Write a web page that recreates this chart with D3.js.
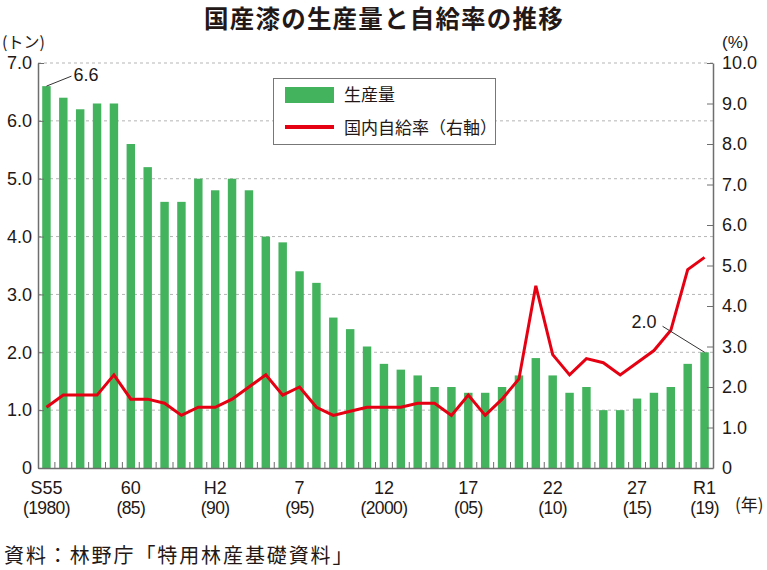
<!DOCTYPE html>
<html><head><meta charset="utf-8">
<script src="https://cdn.jsdelivr.net/npm/d3@7"></script>
<style>
html,body{margin:0;padding:0;background:#fff;}
svg text{font-family:"Liberation Sans",Arial,sans-serif;fill:#231815;}
.jp{font-family:"Noto Sans CJK JP","Noto Sans",sans-serif;}
</style></head>
<body>
<svg id="c" width="767" height="570"></svg>
<script>
// ---- data ----
const years = [1980,1981,1982,1983,1984,1985,1986,1987,1988,1989,
               1990,1991,1992,1993,1994,1995,1996,1997,1998,1999,
               2000,2001,2002,2003,2004,2005,2006,2007,2008,2009,
               2010,2011,2012,2013,2014,2015,2016,2017,2018,2019];
const production = [6.6,6.4,6.2,6.3,6.3,5.6,5.2,4.6,4.6,5.0,
                    4.8,5.0,4.8,4.0,3.9,3.4,3.2,2.6,2.4,2.1,
                    1.8,1.7,1.6,1.4,1.4,1.3,1.3,1.4,1.6,1.9,
                    1.6,1.3,1.4,1.0,1.0,1.2,1.3,1.4,1.8,2.0];
const selfSufficiency = [1.5,1.8,1.8,1.8,2.3,1.7,1.7,1.6,1.3,1.5,
                         1.5,1.7,2.0,2.3,1.8,2.0,1.5,1.3,1.4,1.5,
                         1.5,1.5,1.6,1.6,1.3,1.8,1.3,1.7,2.2,4.5,
                         2.8,2.3,2.7,2.6,2.3,2.6,2.9,3.4,4.9,5.2];
const leftTicks = [0,1,2,3,4,5,6,7];
const rightTicks = [0,1,2,3,4,5,6,7,8,9,10];
const xLabelYears = [1980,1985,1990,1995,2000,2005,2010,2015,2019];
const xLabelsEra = ["S55","60","H2","7","12","17","22","27","R1"];
const xLabelsAD = ["(1980)","(85)","(90)","(95)","(2000)","(05)","(10)","(15)","(19)"];
const title = "国産漆の生産量と自給率の推移";
const legendLabels = ["生産量","国内自給率（右軸）"];
const source = "資料：林野庁「特用林産基礎資料」";

const GREEN = "#44b35e", RED = "#e50012", AXIS = "#6e6e6e";
const svg = d3.select("#c");
const L = 38, R = 713, T = 63, B = 468;

const x = d3.scaleBand().domain(years).range([L, R]).paddingInner(0.5).paddingOuter(0.25);
const yL = d3.scaleLinear().domain([0,7]).range([B, T]);
const yR = d3.scaleLinear().domain([0,10]).range([B, T]);
const bw = x.bandwidth(), step = x.step();
const cx = d => x(d) + bw/2;

// title
svg.append("text").attr("class","jp").attr("x",384).attr("y",28).attr("text-anchor","middle")
  .attr("font-size",24.5).attr("font-weight","bold").attr("letter-spacing",1.2).text(title);

// gridlines
svg.append("g").selectAll("line").data(leftTicks.filter(d=>d>0)).join("line")
  .attr("x1",L).attr("x2",R).attr("y1",d=>yL(d)).attr("y2",d=>yL(d))
  .attr("stroke","#b5b5b5").attr("stroke-width",1).attr("stroke-dasharray","3,3");

// bars
svg.append("g").selectAll("rect").data(years).join("rect")
  .attr("x",d=>x(d)).attr("width",bw)
  .attr("y",(d,i)=>yL(production[i])).attr("height",(d,i)=>B-yL(production[i]))
  .attr("fill",GREEN);

// line
const line = d3.line().x((d,i)=>cx(years[i])).y(d=>yR(d));
svg.append("path").datum(selfSufficiency).attr("d",line)
  .attr("fill","none").attr("stroke",RED).attr("stroke-width",3).attr("stroke-linejoin","miter");

// left axis
const fmt = d => d===0 ? "0" : d3.format(".1f")(d);
const gl = svg.append("g").attr("transform",`translate(${L},0)`)
  .call(d3.axisLeft(yL).tickValues(leftTicks).tickFormat(fmt).tickSizeInner(-6).tickSizeOuter(0).tickPadding(6));
// right axis
const gr = svg.append("g").attr("transform",`translate(${R},0)`)
  .call(d3.axisRight(yR).tickValues(rightTicks).tickFormat(fmt).tickSizeInner(-6).tickSizeOuter(0).tickPadding(9));
[gl,gr].forEach(g=>{
  g.select(".domain").attr("stroke",AXIS).attr("stroke-width",1.5);
  g.selectAll(".tick line").attr("stroke",AXIS);
  g.selectAll(".tick text").attr("font-size",18).attr("fill","#231815")
    .attr("font-family","'Liberation Sans',Arial,sans-serif");
});

// bottom axis
const gb = svg.append("g").attr("transform",`translate(0,${B})`)
  .call(d3.axisBottom(x).tickValues(xLabelYears).tickFormat((d,i)=>xLabelsEra[i]).tickSize(0).tickPadding(13));
gb.select(".domain").attr("stroke",AXIS).attr("stroke-width",1.5);
gb.selectAll(".tick text").attr("font-size",18).attr("fill","#231815")
  .attr("font-family","'Liberation Sans',Arial,sans-serif");
gb.selectAll(".tick").append("text").attr("y",46).attr("font-size",17.5)
  .attr("fill","#231815").attr("font-family","'Liberation Sans',Arial,sans-serif")
  .attr("letter-spacing",-0.6)
  .text((d,i)=>xLabelsAD[i]);
// boundary ticks
svg.append("g").selectAll("line").data(years.slice(1)).join("line")
  .attr("x1",d=>x(d)-(step-bw)/2).attr("x2",d=>x(d)-(step-bw)/2)
  .attr("y1",B).attr("y2",B-6).attr("stroke",AXIS).attr("stroke-width",1);

// unit labels
svg.append("text").attr("class","jp").attr("x",2).attr("y",48).attr("font-size",16).text("(トン)");
svg.append("text").attr("x",722).attr("y",48).attr("font-size",17).text("(%)");
svg.append("text").attr("class","jp").attr("x",735).attr("y",511).attr("font-size",17).text("(年)");

// legend
const lg = svg.append("g");
lg.append("rect").attr("x",273.5).attr("y",78.5).attr("width",222).attr("height",66)
  .attr("fill","#fff").attr("stroke","#777").attr("stroke-width",1);
lg.append("rect").attr("x",285).attr("y",87).attr("width",49).attr("height",16).attr("fill",GREEN);
lg.append("line").attr("x1",285).attr("x2",334).attr("y1",127).attr("y2",127).attr("stroke",RED).attr("stroke-width",4);
lg.append("text").attr("class","jp").attr("x",344).attr("y",101).attr("font-size",17).text(legendLabels[0]);
lg.append("text").attr("class","jp").attr("x",344).attr("y",134).attr("font-size",17).text(legendLabels[1]);

// annotations
const a1x = cx(years[0]), a1y = yL(production[0]);
svg.append("line").attr("x1",a1x).attr("y1",a1y).attr("x2",a1x+25).attr("y2",a1y-10)
  .attr("stroke","#333").attr("stroke-width",1);
svg.append("text").attr("x",a1x+27).attr("y",a1y-5).attr("font-size",18).text(d3.format(".1f")(production[0]));
const n = years.length-1;
const a2x = cx(years[n]), a2y = yL(production[n]);
svg.append("line").attr("x1",a2x).attr("y1",a2y).attr("x2",a2x-42).attr("y2",a2y-26)
  .attr("stroke","#333").attr("stroke-width",1);
svg.append("text").attr("x",a2x-48).attr("y",a2y-24).attr("text-anchor","end").attr("font-size",18)
  .text(d3.format(".1f")(production[n]));

// source
svg.append("text").attr("class","jp").attr("x",4).attr("y",563).attr("font-size",20)
  .attr("letter-spacing",1.9).text(source);
</script>
</body></html>
